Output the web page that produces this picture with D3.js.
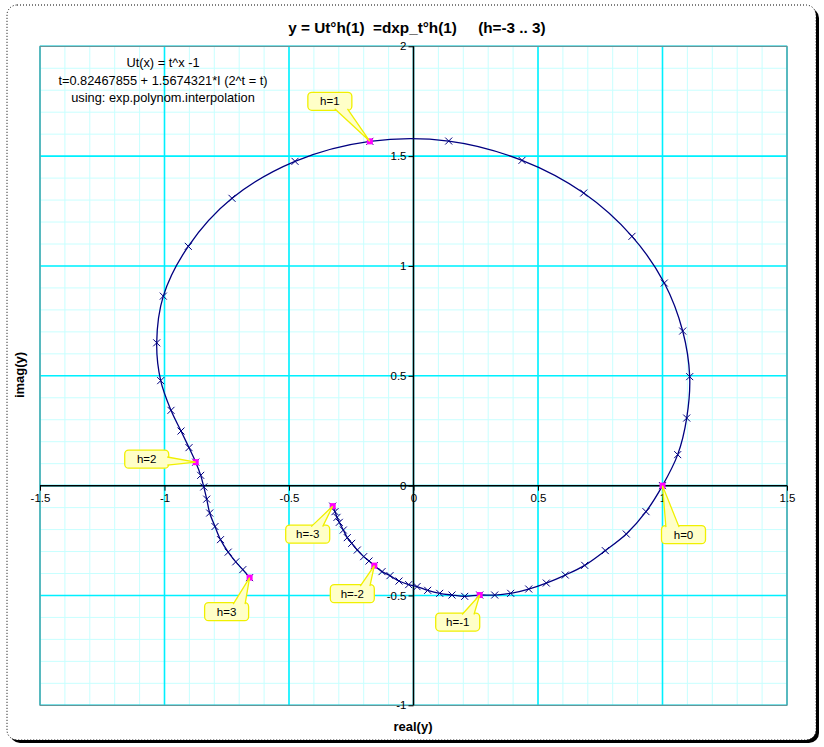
<!DOCTYPE html>
<html>
<head>
<meta charset="utf-8">
<script src="https://cdn.jsdelivr.net/npm/d3@7"></script>
<style>
  body { margin: 0; background: #fff; }
  svg { display: block; font-family: Arial, "Liberation Sans", sans-serif; }
</style>
</head>
<body>
<div id="chart"></div>
<script>
// iteration height h and the value y = Ut°h(1)
var hVals = [-3.0, -2.9, -2.8, -2.7, -2.6, -2.5, -2.4, -2.3, -2.2, -2.1,
             -2.0, -1.9, -1.8, -1.7, -1.6, -1.5, -1.4, -1.3, -1.2, -1.1,
             -1.0, -0.9, -0.8, -0.7, -0.6, -0.5, -0.4, -0.3, -0.2, -0.1,
              0.0,  0.1,  0.2,  0.3,  0.4,  0.5,  0.6,  0.7,  0.8,  0.9,
              1.0,  1.1,  1.2,  1.3,  1.4,  1.5,  1.6,  1.7,  1.8,  1.9,
              2.0,  2.1,  2.2,  2.3,  2.4,  2.5,  2.6,  2.7,  2.8,  2.9,  3.0];
var realY = [-0.3245, -0.3153, -0.3072, -0.2980, -0.2819, -0.2659, -0.2482, -0.2257, -0.2000, -0.1787,
             -0.1574, -0.1265, -0.0944, -0.0582, -0.0193,  0.0141,  0.0570,  0.1052,  0.1546,  0.2056,
              0.2659,  0.3261,  0.3904,  0.4627,  0.5333,  0.6096,  0.6876,  0.7703,  0.8546,  0.9337,
              1.0000,  1.0610,  1.0972,  1.1092,  1.0811,  1.0072,  0.8775,  0.6835,  0.4357,  0.1414,
             -0.1753, -0.4759, -0.7289, -0.9044, -1.0048, -1.0313, -1.0153, -0.9739, -0.9337, -0.9016,
             -0.8746, -0.8546, -0.8422, -0.8305, -0.8185, -0.7972, -0.7751, -0.7442, -0.7137, -0.6855, -0.6582];
var imagY = [-0.0933, -0.1184, -0.1443, -0.1671, -0.2021, -0.2367, -0.2627, -0.2932, -0.3232, -0.3432,
             -0.3642, -0.3915, -0.4097, -0.4343, -0.4507, -0.4598, -0.4766, -0.4903, -0.4980, -0.5040,
             -0.4980, -0.4980, -0.4903, -0.4707, -0.4434, -0.4070, -0.3628, -0.2959, -0.2203, -0.1184,
              0.0000,  0.1411,  0.3077,  0.4962,  0.7038,  0.9223,  1.1349,  1.3320,  1.4809,  1.5687,
              1.5674,  1.4763,  1.3079,  1.0894,  0.8627,  0.6501,  0.4780,  0.3428,  0.2486,  0.1730,
              0.1069,  0.0469, -0.0059, -0.0615, -0.1247, -0.1862, -0.2458, -0.3027, -0.3469, -0.3824, -0.4188];

var xTicks = [-1.5, -1, -0.5, 0, 0.5, 1, 1.5];
var yTicks = [-1, -0.5, 0, 0.5, 1, 1.5, 2];
var noteLines = ["Ut(x) = t^x -1", "t=0.82467855 + 1.5674321*I (2^t = t)", "using: exp.polynom.interpolation"];

// where each yellow callout sits, relative to its point (pixels)
var callouts = [
  {h: -3, dx: -47, dy: 19,  side: "top",    f0: 0.58, f1: 0.84},
  {h: -2, dx: -44, dy: 19,  side: "top",    f0: 0.68, f1: 0.90},
  {h: -1, dx: -44, dy: 18,  side: "top",    f0: 0.60, f1: 0.87},
  {h:  0, dx: -1,  dy: 40,  side: "top",    f0: 0.10, f1: 0.40},
  {h:  1, dx: -62, dy: -49, side: "bottom", f0: 0.61, f1: 0.90},
  {h:  2, dx: -71, dy: -12, side: "right",  f0: 0.38, f1: 0.83},
  {h:  3, dx: -45, dy: 25,  side: "top",    f0: 0.65, f1: 0.92}
];

var data = hVals.map(function(h, i) { return {h: h, re: realY[i], im: imagY[i]}; });

var W = 824, H = 747;
var svg = d3.select("#chart").append("svg")
  .attr("width", W)
  .attr("height", H);

// outer frame with shadow
svg.append("rect")
  .attr("x", 10).attr("y", 8).attr("width", 809).attr("height", 735)
  .attr("rx", 10).attr("fill", "#000");
svg.append("rect")
  .attr("x", 7).attr("y", 5).attr("width", 809).attr("height", 735)
  .attr("rx", 10).attr("fill", "#fff")
  .attr("stroke", "#000").attr("stroke-width", 1).attr("stroke-dasharray", "1,2");

var x = d3.scaleLinear().domain([-1.5, 1.5]).range([40, 787]);
var y = d3.scaleLinear().domain([-1, 2]).range([705.3, 46.3]);

var plot = svg.append("g");

// minor grid
plot.append("g").selectAll("line")
  .data(x.ticks(30))
  .enter().append("line")
    .attr("x1", function(d) { return x(d); })
    .attr("x2", function(d) { return x(d); })
    .attr("y1", y(-1)).attr("y2", y(2))
    .attr("stroke", "#c8ffff").attr("stroke-width", 1);
plot.append("g").selectAll("line")
  .data(y.ticks(30))
  .enter().append("line")
    .attr("y1", function(d) { return y(d); })
    .attr("y2", function(d) { return y(d); })
    .attr("x1", x(-1.5)).attr("x2", x(1.5))
    .attr("stroke", "#c8ffff").attr("stroke-width", 1);

// major grid
plot.append("g").selectAll("line")
  .data(xTicks)
  .enter().append("line")
    .attr("x1", function(d) { return x(d); })
    .attr("x2", function(d) { return x(d); })
    .attr("y1", y(-1)).attr("y2", y(2))
    .attr("stroke", "#00f0ff").attr("stroke-width", 1.6);
plot.append("g").selectAll("line")
  .data(yTicks)
  .enter().append("line")
    .attr("y1", function(d) { return y(d); })
    .attr("y2", function(d) { return y(d); })
    .attr("x1", x(-1.5)).attr("x2", x(1.5))
    .attr("stroke", "#00f0ff").attr("stroke-width", 1.6);

// plot border
plot.append("rect")
  .attr("x", x(-1.5)).attr("y", y(2))
  .attr("width", x(1.5) - x(-1.5)).attr("height", y(-1) - y(2))
  .attr("fill", "none").attr("stroke", "#808080").attr("stroke-width", 1);

// axes through the origin
var xAxis = d3.axisBottom(x).tickValues(xTicks).tickSize(5).tickPadding(3)
  .tickFormat(function(d) { return String(d); });
var yAxis = d3.axisLeft(y).tickValues(yTicks).tickSize(5).tickPadding(2)
  .tickFormat(function(d) { return String(d); });

var gx = svg.append("g")
  .attr("transform", "translate(0," + y(0) + ")")
  .call(xAxis);
gx.select(".domain").attr("stroke", "#000").attr("stroke-width", 1.5)
  .attr("d", "M" + x(-1.5) + ",0H" + x(1.5));
gx.selectAll("text").attr("font-size", "11.5px").attr("font-family", "Arial, 'Liberation Sans', sans-serif").attr("fill", "#000");

var gy = svg.append("g")
  .attr("transform", "translate(" + x(0) + ",0)")
  .call(yAxis);
gy.select(".domain").attr("stroke", "#000").attr("stroke-width", 1.5)
  .attr("d", "M0," + y(2) + "V" + y(-1));
gy.selectAll("text").attr("font-size", "11.5px").attr("font-family", "Arial, 'Liberation Sans', sans-serif").attr("fill", "#000");

// curve
var line = d3.line()
  .x(function(d) { return x(d.re); })
  .y(function(d) { return y(d.im); })
  .curve(d3.curveCatmullRom.alpha(0.5));

svg.append("path")
  .datum(data)
  .attr("d", line)
  .attr("fill", "none")
  .attr("stroke", "#000080")
  .attr("stroke-width", 1.3);

// x markers
svg.append("g").selectAll("path")
  .data(data)
  .enter().append("path")
    .attr("d", function(d) {
      var cx = x(d.re), cy = y(d.im), s = 3.5;
      return "M" + (cx - s) + "," + (cy - s) + "L" + (cx + s) + "," + (cy + s) +
             "M" + (cx - s) + "," + (cy + s) + "L" + (cx + s) + "," + (cy - s);
    })
    .attr("stroke", "#000080")
    .attr("stroke-width", 1);

// integer heights in magenta
var whole = data.filter(function(d) { return Math.abs(d.h - Math.round(d.h)) < 1e-9; });
svg.append("g").selectAll("rect")
  .data(whole)
  .enter().append("rect")
    .attr("x", function(d) { return x(d.re) - 3; })
    .attr("y", function(d) { return y(d.im) - 3; })
    .attr("width", 6).attr("height", 6)
    .attr("fill", "#ff00ff");

// callouts
var bw = 44, bh = 18;
var cg = svg.append("g");
callouts.forEach(function(c) {
  var p = whole.filter(function(d) { return Math.round(d.h) === c.h; })[0];
  var px = x(p.re), py = y(p.im);
  var bx = px + c.dx, by = py + c.dy;
  var b0, b1;
  if (c.side === "top") {
    b0 = [bx + bw * c.f0, by + 1.5]; b1 = [bx + bw * c.f1, by + 1.5];
  } else if (c.side === "bottom") {
    b0 = [bx + bw * c.f0, by + bh - 1.5]; b1 = [bx + bw * c.f1, by + bh - 1.5];
  } else {
    b0 = [bx + bw - 1.5, by + bh * c.f0]; b1 = [bx + bw - 1.5, by + bh * c.f1];
  }
  cg.append("rect")
    .attr("x", bx).attr("y", by).attr("width", bw).attr("height", bh)
    .attr("rx", 4)
    .attr("fill", "#ffffc8").attr("stroke", "#f0f000").attr("stroke-width", 1.3);
  cg.append("path")
    .attr("d", "M" + b0[0] + "," + b0[1] + "L" + px + "," + py + "L" + b1[0] + "," + b1[1])
    .attr("fill", "#ffffc8").attr("stroke", "#f0f000").attr("stroke-width", 1.3);
  cg.append("text")
    .attr("x", bx + bw / 2).attr("y", by + bh / 2 + 4)
    .attr("text-anchor", "middle")
    .attr("font-size", "11.5px")
    .text("h=" + c.h);
});

// title
svg.append("text")
  .attr("x", 417).attr("y", 33)
  .attr("text-anchor", "middle")
  .style("white-space", "pre")
  .attr("font-size", "15.3px")
  .attr("font-weight", "bold")
  .text("y = Ut\u00b0h(1)  =dxp_t\u00b0h(1)     (h=-3 .. 3)");

// note block
svg.append("g").selectAll("text")
  .data(noteLines)
  .enter().append("text")
    .attr("x", 163)
    .attr("y", function(d, i) { return 67 + i * 17.5; })
    .attr("text-anchor", "middle")
    .attr("font-size", "12.8px")
    .text(function(d) { return d; });

// axis titles
svg.append("text")
  .attr("transform", "translate(24,375)rotate(-90)")
  .attr("text-anchor", "middle")
  .attr("font-size", "13px")
  .attr("font-weight", "bold")
  .text("imag(y)");
svg.append("text")
  .attr("x", 413).attr("y", 731)
  .attr("text-anchor", "middle")
  .attr("font-size", "13px")
  .attr("font-weight", "bold")
  .text("real(y)");
</script>
</body>
</html>
